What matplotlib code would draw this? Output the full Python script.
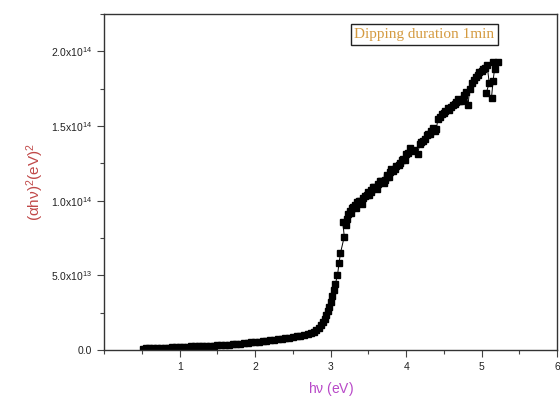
import matplotlib
matplotlib.use('Agg')
import matplotlib.pyplot as plt
from matplotlib.ticker import MultipleLocator
import numpy as np

plt.rcParams['font.family'] = ['Liberation Sans', 'DejaVu Sans']
plt.rcParams['mathtext.default'] = 'regular'

# photon energy (eV) and (alpha h nu)^2 in units of 1e12 (eV)^2
hv = [0.52, 0.55, 0.60, 0.65, 0.70, 0.75, 0.80, 0.85, 0.90, 0.95,
      1.00, 1.05, 1.10, 1.15, 1.20, 1.25, 1.30, 1.35, 1.40, 1.45,
      1.50, 1.55, 1.60, 1.65, 1.70, 1.75, 1.80, 1.85, 1.90, 1.95,
      2.00, 2.05, 2.10, 2.15, 2.20, 2.25, 2.30, 2.35, 2.40, 2.45,
      2.50, 2.55, 2.60, 2.65, 2.70, 2.74, 2.78, 2.81, 2.84, 2.87,
      2.90, 2.92, 2.94, 2.96, 2.98, 3.00, 3.02, 3.04, 3.06, 3.09,
      3.11, 3.13, 3.18, 3.16, 3.20, 3.22, 3.23, 3.25, 3.27, 3.28,
      3.30, 3.32, 3.34, 3.35, 3.37, 3.39, 3.41, 3.43, 3.46, 3.48,
      3.50, 3.51, 3.53, 3.54, 3.56, 3.58, 3.61, 3.63, 3.65, 3.67,
      3.70, 3.72, 3.74, 3.75, 3.77, 3.78, 3.80, 3.82, 3.85, 3.87,
      3.90, 3.92, 3.94, 3.96, 3.98, 4.00, 4.03, 4.05, 4.08, 4.11,
      4.15, 4.18, 4.20, 4.22, 4.25, 4.27, 4.29, 4.31, 4.33, 4.35,
      4.38, 4.40, 4.42, 4.45, 4.48, 4.50, 4.52, 4.55, 4.57, 4.59,
      4.62, 4.64, 4.66, 4.68, 4.70, 4.72, 4.75, 4.77, 4.79, 4.82,
      4.84, 4.87, 4.90, 4.93, 4.95, 4.97, 5.00, 5.02, 5.04, 5.07,
      5.10, 5.06, 5.13, 5.15, 5.17, 5.15, 5.21]
ahv2 = [1.0, 1.1, 1.2, 1.3, 1.4, 1.5, 1.6, 1.7, 1.8, 1.9,
        2.0, 2.1, 2.2, 2.4, 2.5, 2.6, 2.7, 2.8, 2.9, 3.0,
        3.1, 3.3, 3.5, 3.7, 3.9, 4.1, 4.4, 4.6, 4.9, 5.1,
        5.4, 5.7, 6.0, 6.3, 6.6, 6.9, 7.3, 7.6, 7.9, 8.3,
        8.7, 9.1, 9.5, 10.0, 10.6, 11.2, 12.0, 13.5, 15.0, 17.0,
        19.0, 21.0, 23.5, 26.0, 29.0, 32.0, 36.0, 40.0, 44.0, 50.0,
        58.0, 65.0, 76.0, 86.0, 84.0, 88.0, 91.0, 93.0, 92.0, 95.0,
        96.0, 97.0, 95.0, 99.0, 100.0, 100.0, 98.0, 102.0, 103.0, 104.0,
        106.0, 104.0, 106.0, 107.0, 109.0, 109.0, 108.0, 111.0, 113.0, 113.0,
        112.0, 114.0, 116.0, 117.0, 116.0, 119.0, 121.0, 120.0, 121.0, 123.0,
        124.0, 125.0, 127.0, 128.0, 127.0, 131.0, 132.0, 135.0, 133.0, 134.0,
        131.0, 138.0, 139.0, 140.0, 141.0, 144.0, 145.0, 145.0, 147.0, 149.0,
        147.0, 148.0, 155.0, 156.0, 158.0, 159.0, 160.0, 162.0, 161.0, 163.0,
        164.0, 165.0, 166.0, 168.0, 167.0, 167.0, 168.0, 171.0, 173.0, 164.0,
        175.0, 179.0, 181.0, 183.0, 184.0, 186.0, 187.0, 188.0, 189.0, 191.0,
        179.0, 172.0, 169.0, 180.0, 188.0, 193.0, 193.0]

yticks = [0, 5e13, 1e14, 1.5e14, 2e14]
ylabels = ['0.0', r'5.0x10$^{13}$', r'1.0x10$^{14}$', r'1.5x10$^{14}$', r'2.0x10$^{14}$']
xticks = [1, 2, 3, 4, 5, 6]

y = np.array(ahv2) * 1e12

fig = plt.figure(figsize=(5.6, 4.01), dpi=100)
ax = fig.add_axes([0.186, 0.127, 0.809, 0.838])

ax.plot(hv, y, color='black', lw=0.7, marker='s', ms=4.2,
        mfc='black', mec='black')

ax.set_xlim(0, 6)
ax.set_ylim(0, 2.25e14)
ax.set_xticks(xticks)
ax.set_yticks(yticks)
ax.set_yticklabels(ylabels)
ax.xaxis.set_minor_locator(MultipleLocator(0.5))
ax.yaxis.set_minor_locator(MultipleLocator(2.5e13))

ax.tick_params(which='both', direction='out', top=False, right=False,
               colors='#444444', labelcolor='#222222', labelsize=7.5, width=0.8)
ax.tick_params(which='major', length=5)
ax.tick_params(which='minor', length=3)
for s in ax.spines.values():
    s.set_color('#333333')
    s.set_linewidth(1.0)

ax.set_xlabel(r'h$\nu$ (eV)', color='#B848C8', fontsize=10, labelpad=6)
ax.set_ylabel(r'($\alpha$h$\nu$)$^2$(eV)$^2$', color='#C04848', fontsize=11, labelpad=4)

ax.text(0.707, 0.939, 'Dipping duration 1min', transform=ax.transAxes,
        ha='center', va='center', fontsize=11, color='#D49A40',
        family='Liberation Serif',
        bbox=dict(boxstyle='square,pad=0.25', fc='white', ec='#222222', lw=1.0))

fig.savefig('out.png', dpi=100)
